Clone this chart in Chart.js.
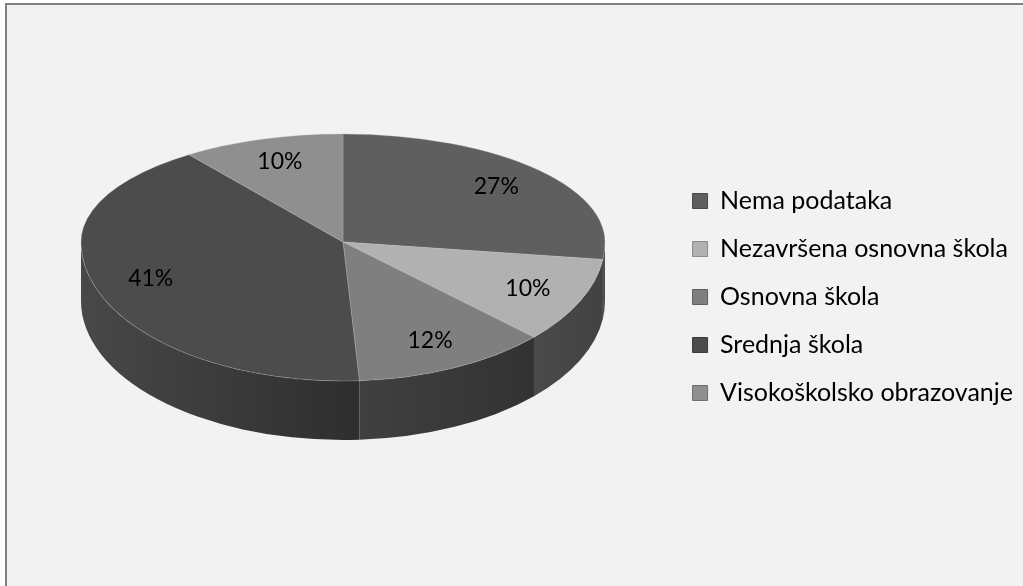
<!DOCTYPE html>
<html><head><meta charset="utf-8">
<script src="https://cdn.jsdelivr.net/npm/chart.js@4/dist/chart.umd.min.js"></script>
<style>
html,body{margin:0;padding:0;background:#fff;overflow:hidden;width:1023px;height:586px;}
#frame{position:absolute;left:5px;top:3px;width:1100px;height:700px;border-top:2px solid #7f7f7f;border-left:2px solid #7f7f7f;background:#f2f2f2;}
#wrap{position:absolute;left:0;top:0;width:1040px;height:586px;}
</style></head><body>
<div id="frame"></div>
<div id="wrap"><canvas id="c" width="1040" height="586"></canvas></div>
<script>
// ---- data ----
const categories = ['Nema podataka', 'Nezavršena osnovna škola', 'Osnovna škola', 'Srednja škola', 'Visokoškolsko obrazovanje'];
const values = [27, 10, 12, 41, 10];

// ---- style ----
const topColors = ['#5f5f5f', '#b1b1b1', '#7f7f7f', '#4c4c4c', '#8f8f8f'];
const wallColors = [['#555555', '#444444'], ['#4a4a4a', '#424242'], ['#404040', '#323232'], ['#484848', '#2e2e2e'], ['#666666', '#555555']];
const legendStroke = ['#4a4a4a', '#8a8a8a', '#606060', '#3a3a3a', '#6e6e6e'];
// simple two-half perspective: the back half is flatter than the front half
const PIE = { cx: 343, cy: 242, rx: 262, ryBack: 108, ryFront: 139, depth: 59, labelFrac: 0.78 };
const FONT = 'Lato';

function flatten(ctx, a0, ry) {
  const R = a0.outerRadius;
  ctx.translate(PIE.cx, PIE.cy);
  ctx.scale(PIE.rx / R, ry / R);
  ctx.translate(-a0.x, -a0.y);
}

const pie3d = {
  id: 'pie3d',
  beforeDatasetsDraw(chart) {
    const ctx = chart.ctx;
    const meta = chart.getDatasetMeta(0);
    const arcs = meta.data;
    if (!arcs.length) return;
    // front walls
    arcs.forEach((a, i) => {
      const s = Math.max(a.startAngle, 0), e = Math.min(a.endAngle, Math.PI);
      if (e <= s) return;
      const x1 = PIE.cx + PIE.rx * Math.cos(s), x2 = PIE.cx + PIE.rx * Math.cos(e);
      const g = ctx.createLinearGradient(Math.min(x1, x2), 0, Math.max(x1, x2) + 1, 0);
      g.addColorStop(0, wallColors[i][0]);
      g.addColorStop(1, wallColors[i][1]);
      ctx.save();
      ctx.beginPath();
      ctx.ellipse(PIE.cx, PIE.cy, PIE.rx, PIE.ryFront, 0, s, e, false);
      ctx.ellipse(PIE.cx, PIE.cy + PIE.depth, PIE.rx, PIE.ryFront, 0, e, s, true);
      ctx.closePath();
      ctx.fillStyle = g;
      ctx.fill();
      ctx.restore();
    });
    const a0 = arcs[0];
    // back half of the top face
    ctx.save();
    ctx.beginPath();
    ctx.rect(0, 0, chart.width, PIE.cy);
    ctx.clip();
    flatten(ctx, a0, PIE.ryBack);
    meta.controller.draw();
    ctx.restore();
    // front half of the top face (drawn by the normal dataset pass)
    ctx.save();
    ctx.beginPath();
    ctx.rect(0, PIE.cy, chart.width, chart.height - PIE.cy);
    ctx.clip();
    flatten(ctx, a0, PIE.ryFront);
  },
  afterDatasetsDraw(chart) {
    const ctx = chart.ctx;
    ctx.restore();
    const arcs = chart.getDatasetMeta(0).data;
    const total = values.reduce((p, v) => p + v, 0);
    ctx.save();
    ctx.font = '23px ' + FONT;
    ctx.fillStyle = '#000';
    ctx.textAlign = 'center';
    ctx.textBaseline = 'middle';
    arcs.forEach((a, i) => {
      const m = (a.startAngle + a.endAngle) / 2;
      const sn = Math.sin(m);
      const x = PIE.cx + PIE.labelFrac * PIE.rx * Math.cos(m);
      const y = PIE.cy + PIE.labelFrac * (sn < 0 ? PIE.ryBack : PIE.ryFront) * sn;
      ctx.fillText(Math.round(values[i] / total * 100) + '%', x, y);
    });
    ctx.restore();
  }
};

function build() {
  Chart.defaults.font.family = FONT;
  new Chart(document.getElementById('c'), {
    type: 'pie',
    data: {
      labels: categories,
      datasets: [{
        data: values,
        backgroundColor: topColors,
        borderColor: 'rgba(190,190,190,0.45)',
        borderWidth: 1,
        clip: false
      }]
    },
    options: {
      responsive: false,
      animation: false,
      events: [],
      layout: { padding: { top: 8, right: 17, left: 18, bottom: 0 } },
      plugins: {
        tooltip: { enabled: false },
        legend: {
          position: 'right',
          align: 'center',
          labels: {
            color: '#000',
            font: { size: 25, family: FONT },
            boxWidth: 15,
            boxHeight: 15,
            padding: 23,
            generateLabels: () => categories.map((t, i) => ({
              text: t, fillStyle: topColors[i], strokeStyle: legendStroke[i],
              lineWidth: 1, hidden: false, index: i, fontColor: '#000'
            }))
          }
        }
      }
    },
    plugins: [pie3d]
  });
}
(document.fonts && document.fonts.load ? document.fonts.load('25px ' + FONT) : Promise.resolve()).then(build, build);
</script>
</body></html>
